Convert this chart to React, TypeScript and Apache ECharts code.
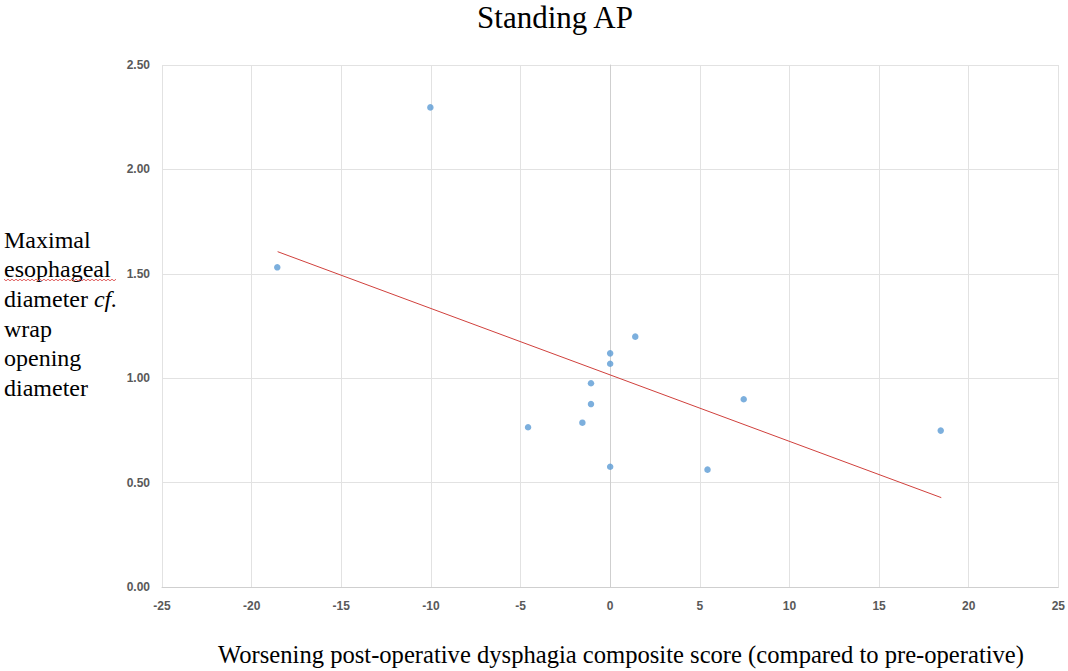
import React, { useEffect, useRef } from "react";
import * as echarts from "echarts";

const chartTitle = "Standing AP";
const xAxisTitle = "Worsening post-operative dysphagia composite score (compared to pre-operative)";
const yAxisTitleLines = ["Maximal", "esophageal", "diameter {i|cf.}", "wrap", "opening", "diameter"];

const xTicks = { min: -25, max: 25, interval: 5 };
const yTicks = { min: 0, max: 2.5, interval: 0.5 };

const pointX = [-18.57, -10.03, -4.58, -1.55, -1.07, -1.07, 0, 0, 0, 1.4, 5.43, 7.45, 18.44];
const pointY = [1.531, 2.297, 0.765, 0.787, 0.876, 0.976, 1.119, 1.069, 0.576, 1.199, 0.562, 0.899, 0.749];

const trendX = [-18.55, 18.47];
const trendY = [1.606, 0.428];

export default function App() {
  const ref = useRef<HTMLDivElement>(null);
  useEffect(() => {
    if (!ref.current) return;
    const chart = echarts.init(ref.current, undefined, { renderer: "svg" });
    const serif = '"Liberation Serif", "Times New Roman", serif';
    const labelStyle = {
      color: "#595959",
      fontWeight: "bold" as const,
      fontSize: 12,
      fontFamily: '"Liberation Sans", Arial, sans-serif',
    };
    // spell-check squiggle under "esophageal"
    const squiggle: number[][] = [];
    for (let x = 4, k = 0; x <= 116; x += 2, k++) {
      squiggle.push([x, 280 + (k % 2 === 0 ? -0.8 : 0.8)]);
    }
    chart.setOption({
      animation: false,
      backgroundColor: "#ffffff",
      grid: { left: 162, right: 8, top: 65, bottom: 84, containLabel: false },
      xAxis: {
        type: "value",
        min: xTicks.min,
        max: xTicks.max,
        interval: xTicks.interval,
        axisLine: { show: true, lineStyle: { color: "#cfcfcf", width: 1 } },
        axisTick: { show: false },
        axisLabel: { ...labelStyle, margin: 13 },
        splitLine: { show: true, lineStyle: { color: "#e2e2e2", width: 1 } },
      },
      yAxis: {
        type: "value",
        min: yTicks.min,
        max: yTicks.max,
        interval: yTicks.interval,
        axisLine: { show: true, onZero: true, lineStyle: { color: "#cfcfcf", width: 1 } },
        axisTick: { show: false },
        axisLabel: { ...labelStyle, margin: 12, formatter: (v: number) => v.toFixed(2) },
        splitLine: { show: true, lineStyle: { color: "#e2e2e2", width: 1 } },
      },
      series: [
        {
          type: "line",
          data: trendX.map((x, i) => [x, trendY[i]]),
          showSymbol: false,
          symbol: "none",
          lineStyle: { color: "#d0403c", width: 1 },
          z: 2,
        },
        {
          type: "scatter",
          data: pointX.map((x, i) => [x, pointY[i]]),
          symbolSize: 6.5,
          itemStyle: { color: "#5b9bd5" },
          z: 3,
        },
      ],
      graphic: [
        {
          type: "text",
          x: 555,
          y: 17,
          style: {
            text: chartTitle,
            fontSize: 31,
            fontFamily: serif,
            fill: "#000",
            align: "center",
            verticalAlign: "middle",
          },
        },
        {
          type: "text",
          x: 621,
          y: 654,
          style: {
            text: xAxisTitle,
            fontSize: 24.6,
            fontFamily: serif,
            fill: "#000",
            align: "center",
            verticalAlign: "middle",
          },
        },
        {
          type: "text",
          x: 4,
          y: 225,
          style: {
            text: yAxisTitleLines.join("\n"),
            fontSize: 24,
            fontFamily: serif,
            lineHeight: 29.6,
            fill: "#000",
            align: "left",
            verticalAlign: "top",
            rich: {
              i: { fontSize: 24, fontFamily: serif, fontStyle: "italic", lineHeight: 29.6, fill: "#000" },
            },
          },
        },
        {
          type: "polyline",
          shape: { points: squiggle },
          style: { stroke: "#e06060", lineWidth: 1, fill: null },
        },
      ],
    });
    return () => chart.dispose();
  }, []);
  return (
    <div
      ref={ref}
      style={{ position: "absolute", left: 0, top: 0, width: 1068, height: 671 }}
    />
  );
}
